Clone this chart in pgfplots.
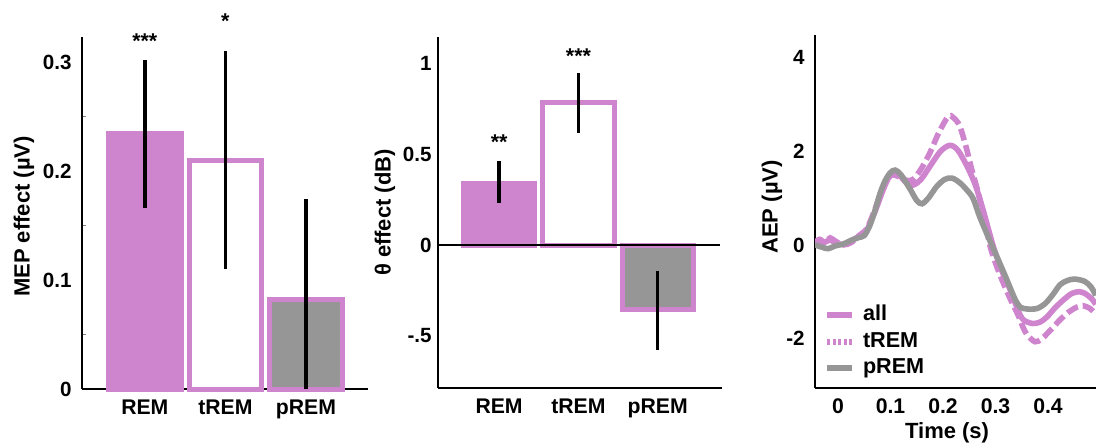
\documentclass[border=0pt]{standalone}
\usepackage{fontspec}
\setmainfont{Liberation Sans}
\usepackage{pgfplots}
\pgfplotsset{compat=1.18}
\definecolor{pk}{RGB}{207,132,206}
\definecolor{gr}{RGB}{150,150,150}
\pgfplotsset{
  common/.style={
    scale only axis, anchor=south west,
    axis x line*=bottom, axis y line*=left,
    axis line style={line width=1.2pt, black, -},
    major tick length=0pt,
    ticklabel style={font=\fontsize{10.3}{12}\selectfont\bfseries},
    yticklabel style={anchor=east, inner sep=0pt, xshift=-5pt},
    xticklabel style={anchor=north, inner sep=0pt, yshift=-5.2pt, font=\fontsize{10.6}{12}\selectfont\bfseries},
    label style={font=\fontsize{11}{13}\selectfont\bfseries},
    clip=false,
  },
  mybar/.style={ybar, bar width=0.9, bar shift=0pt, line width=2.5pt, draw=pk,
    error bars/y dir=both, error bars/y explicit, error bars/error mark=none,
    error bars/error bar style={line width=1.7pt, black}},
}
\begin{document}
\begin{tikzpicture}
\useasboundingbox (0,0) rectangle (548pt,223pt);
% ---------- Panel 1 ----------
\begin{axis}[common, at={(41pt,28.5pt)}, width=143pt, height=176pt,
  xmin=0.22, xmax=3.77, ymin=0, ymax=0.323,
  xtick={1,2,3}, xticklabels={REM,tREM,pREM},
  ytick={0,0.1,0.2,0.3}, yticklabels={0,0.1,0.2,0.3},
  minor ytick={0.05,0.15,0.25}, minor tick length=2pt,
  minor tick style={line width=0.6pt},
  ylabel={MEP effect (µV)},
  ylabel style={at={(axis description cs:-0.203,0.49)}, anchor=center},
]
\addplot[fill=pk, mybar] coordinates {(1,0.234) +- (0,0.068)};
\addplot[fill=white, mybar] coordinates {(2,0.21) +- (0,0.1)};
\addplot[fill=gr, mybar] coordinates {(3,0.082) += (0,0.092) -= (0,0.082)};
\node[anchor=base, font=\fontsize{10.7}{12}\selectfont\bfseries] at (axis cs:1,0.3125) {***};
\node[anchor=base, font=\fontsize{10.7}{12}\selectfont\bfseries] at (axis cs:2,0.331) {*};
\end{axis}
% ---------- Panel 2 ----------
\begin{axis}[common, at={(219pt,29pt)}, width=142pt, height=175.5pt,
  xmin=0.23, xmax=3.81, ymin=-0.787, ymax=1.145,
  xtick={1,2,3}, xticklabels={REM,tREM,pREM},
  ytick={-0.5,0,0.5,1}, yticklabels={-.5,0,0.5,1},
  yticklabel style={xshift=2pt},
  ylabel={θ effect (dB)},
  ylabel style={at={(axis description cs:-0.187,0.5)}, anchor=center},
]
\addplot[fill=pk, mybar] coordinates {(1,0.34) += (0,0.123) -= (0,0.109)};
\addplot[fill=white, mybar] coordinates {(2,0.785) += (0,0.162) -= (0,0.168)};
\addplot[fill=gr, mybar] coordinates {(3,-0.355) += (0,0.212) -= (0,0.223)};
\addplot[black, line width=0.6pt] coordinates {(0.23,0) (3.79,0)};
\node[anchor=base, font=\fontsize{10.7}{12}\selectfont\bfseries] at (axis cs:1,0.527) {**};
\node[anchor=base, font=\fontsize{10.7}{12}\selectfont\bfseries] at (axis cs:2,1.0) {***};
\end{axis}
% ---------- Panel 3 ----------
\begin{axis}[common, at={(407.5pt,29pt)}, width=140.5pt, height=176.5pt,
  xmin=-0.0438, xmax=0.4914, ymin=-3.06, ymax=4.49,
  xtick={0,0.1,0.2,0.3,0.4}, xticklabels={0,0.1,0.2,0.3,0.4},
  ytick={-2,0,2,4}, yticklabels={-2,0,2,4},
  xlabel={Time (s)}, ylabel={AEP (µV)},
  xlabel style={at={(axis description cs:0.47,-0.127)}, anchor=center},
  ylabel style={at={(axis description cs:-0.153,0.513)}, anchor=center},
  clip=true,
  legend image code/.code={\draw[#1, line cap=butt] (0pt,0pt) -- (12.5pt,0pt); \path (15pt,0pt);},
  legend cell align=left,
  legend style={at={(axis description cs:0.032,0.242)}, anchor=north west,
    draw=none, fill=none, inner sep=0pt, outer sep=0pt,
    font=\fontsize{10.8}{12}\selectfont\bfseries, row sep=0.75pt,
    nodes={inner sep=1.5pt, text height=7.5pt, text depth=2pt}},
]
\addlegendimage{pk, line width=3pt}
\addlegendentry{all}
\addlegendimage{pk, line width=3pt, dash pattern=on 1.6pt off 1.2pt}
\addlegendentry{tREM}
\addlegendimage{gr, line width=3pt}
\addlegendentry{pREM}
% tREM (dashed)
\addplot[pk, line width=2.8pt, dash pattern=on 6pt off 2.5pt, smooth, forget plot] coordinates {
(-0.044,0.05) (-0.035,0.12) (-0.025,0.05) (-0.015,0.15) (-0.005,0.08) (0.01,0.0)
(0.025,0.05) (0.04,0.2) (0.055,0.35) (0.07,0.75) (0.085,1.2) (0.097,1.45)
(0.105,1.5) (0.118,1.45) (0.13,1.38) (0.143,1.4) (0.158,1.62) (0.175,1.97)
(0.192,2.4) (0.21,2.75) (0.22,2.72) (0.232,2.54) (0.245,2.05) (0.255,1.6)
(0.265,1.2) (0.278,0.6) (0.29,-0.04) (0.302,-0.45) (0.315,-0.82) (0.33,-1.2)
(0.343,-1.5) (0.352,-1.75) (0.36,-1.92) (0.375,-2.07) (0.387,-2.02) (0.398,-1.9)
(0.41,-1.76) (0.423,-1.6) (0.44,-1.43) (0.455,-1.33) (0.467,-1.3) (0.48,-1.36)
(0.491,-1.48)};
% all (solid pink)
\addplot[pk, line width=2.8pt, smooth, forget plot] coordinates {
(-0.044,0.08) (-0.03,0.04) (-0.015,0.1) (0.0,0.02) (0.015,0.02) (0.03,0.12)
(0.045,0.22) (0.055,0.32) (0.07,0.7) (0.085,1.15) (0.097,1.45) (0.107,1.55)
(0.118,1.48) (0.13,1.33) (0.143,1.28) (0.158,1.4) (0.175,1.68) (0.195,2.0)
(0.213,2.13) (0.228,2.03) (0.245,1.7) (0.261,1.3) (0.275,0.8) (0.296,-0.04)
(0.312,-0.55) (0.328,-0.96) (0.343,-1.4) (0.353,-1.6) (0.37,-1.68) (0.385,-1.65)
(0.398,-1.54) (0.413,-1.35) (0.429,-1.18) (0.445,-1.04) (0.46,-1.0) (0.472,-1.05)
(0.483,-1.15) (0.491,-1.27)};
% pREM (gray)
\addplot[gr, line width=2.8pt, smooth, forget plot] coordinates {
(-0.044,0.0) (-0.03,-0.05) (-0.019,-0.08) (-0.005,-0.02) (0.01,0.02) (0.025,0.1)
(0.04,0.16) (0.05,0.2) (0.06,0.4) (0.07,0.72) (0.08,1.1) (0.09,1.38)
(0.1,1.55) (0.109,1.6) (0.12,1.5) (0.137,1.2) (0.15,0.95) (0.16,0.88)
(0.172,1.0) (0.188,1.25) (0.203,1.4) (0.217,1.43) (0.232,1.33) (0.245,1.18)
(0.257,1.0) (0.27,0.6) (0.285,0.2) (0.303,-0.26) (0.318,-0.65) (0.328,-0.92)
(0.338,-1.18) (0.347,-1.33) (0.36,-1.37) (0.379,-1.36) (0.395,-1.25) (0.41,-1.05)
(0.423,-0.85) (0.437,-0.76) (0.451,-0.73) (0.47,-0.78) (0.482,-0.9) (0.491,-1.08)};
\end{axis}
\end{tikzpicture}
\end{document}
